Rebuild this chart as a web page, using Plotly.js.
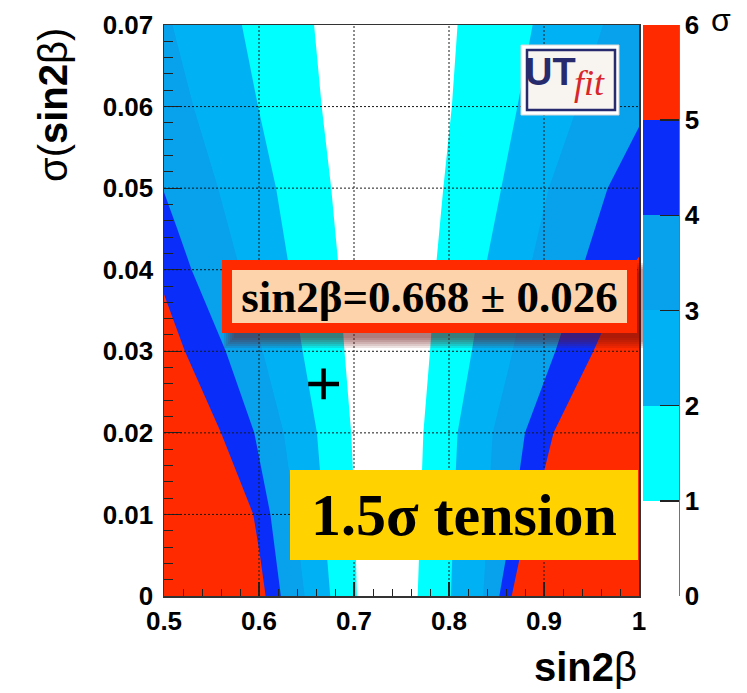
<!DOCTYPE html>
<html>
<head>
<meta charset="utf-8">
<script src="https://cdn.plot.ly/plotly-3.0.1.min.js"></script>
<style>
  html, body { margin: 0; padding: 0; background: #ffffff; }
  #chart { width: 747px; height: 693px; }
</style>
</head>
<body>
<div id="chart"></div>
<script>
// Compatibility (in sigma) of a sin2β measurement with the fit prediction,
// as a function of the measured value and its error.

const xRange = [0.5, 1.0];
const yRange = [0, 0.07];
const xTicks = [0.5, 0.6, 0.7, 0.8, 0.9, 1.0];
const yTicks = [0, 0.01, 0.02, 0.03, 0.04, 0.05, 0.06, 0.07];

// sigma levels and the colour of each band between consecutive levels
const sigmaLevels = [0, 1, 2, 3, 4, 5, 6];
const bandColors = ['#ffffff', '#00ffff', '#00b2f4', '#08a1ec', '#0a2dfa', '#ff2a00'];

// contour lines on the low side of the prediction (sin2β values, per σ(sin2β) row)
const rowsY  = [0, 0.01, 0.02, 0.03, 0.04, 0.05, 0.06, 0.07];
const left1X = [0.703, 0.701, 0.697, 0.690, 0.684, 0.676, 0.666, 0.658];
const left2X = [0.675, 0.668, 0.661, 0.646, 0.632, 0.618, 0.599, 0.582];
const left3X = [0.648, 0.638, 0.626, 0.604, 0.580, 0.557, 0.531, 0.509];
const left4Y = [0, 0.01, 0.02, 0.03, 0.04, 0.045, 0.0495];
const left4X = [0.623, 0.612, 0.595, 0.565, 0.529, 0.514, 0.500];
const left5Y = [0, 0.005, 0.01, 0.02, 0.03, 0.037];
const left5X = [0.607, 0.601, 0.594, 0.560, 0.522, 0.500];

// contour lines on the high side of the prediction
const right1X = [0.767, 0.770, 0.773, 0.780, 0.786, 0.794, 0.803, 0.809];
const right2X = [0.802, 0.805, 0.809, 0.824, 0.838, 0.855, 0.872, 0.888];
const right3X = [0.836, 0.841, 0.846, 0.867, 0.885, 0.905, 0.935, 0.962];
const right4Y = [0, 0.01, 0.02, 0.03, 0.04, 0.05, 0.0575];
const right4X = [0.853, 0.868, 0.880, 0.912, 0.940, 0.967, 1.000];
const right5Y = [0, 0.005, 0.01, 0.02, 0.03, 0.04, 0.0416];
const right5X = [0.866, 0.875, 0.889, 0.910, 0.952, 0.990, 1.000];

// current measurement: value and error
const measX = [0.668];
const measErr = [0.026];

// ---------- band polygons ----------
function sideBand(xs, ys, color, side) {
  const edge = side === 'left' ? xRange[0] - 0.05 : xRange[1] + 0.05;
  return {
    type: 'scatter', mode: 'none',
    x: xs.concat([edge, edge]),
    y: ys.concat([ys[ys.length - 1], ys[0]]),
    fill: 'toself', fillcolor: color,
    hoverinfo: 'skip', showlegend: false
  };
}

const traces = [
  sideBand(left1X, rowsY, bandColors[1], 'left'),
  sideBand(left2X, rowsY, bandColors[2], 'left'),
  sideBand(left3X, rowsY, bandColors[3], 'left'),
  sideBand(left4X, left4Y, bandColors[4], 'left'),
  sideBand(left5X, left5Y, bandColors[5], 'left'),
  sideBand(right1X, rowsY, bandColors[1], 'right'),
  sideBand(right2X, rowsY, bandColors[2], 'right'),
  sideBand(right3X, rowsY, bandColors[3], 'right'),
  sideBand(right4X, right4Y, bandColors[4], 'right'),
  sideBand(right5X, right5Y, bandColors[5], 'right')
];

// stepped colour scale for the σ colour bar
const nBands = sigmaLevels.length - 1;
const colorscale = [];
bandColors.forEach((c, i) => {
  colorscale.push([i / nBands, c]);
  colorscale.push([(i + 1) / nBands, c]);
});

// measurement marker
traces.push({
  type: 'scatter', mode: 'markers',
  x: measX, y: measErr,
  marker: { symbol: 'cross-thin', size: 22, color: '#000000', line: { color: '#000000', width: 4.5 } },
  hoverinfo: 'skip', showlegend: false
});

// colour bar carrier (no visible point)
traces.push({
  type: 'scatter', mode: 'markers',
  x: [null], y: [null],
  marker: {
    color: [sigmaLevels[0]], cmin: sigmaLevels[0], cmax: sigmaLevels[sigmaLevels.length - 1],
    colorscale: colorscale, showscale: true,
    colorbar: {
      x: 1.0084, xanchor: 'left', xpad: 0, ypad: 0,
      y: 0.5, yanchor: 'middle', len: 1, lenmode: 'fraction',
      thickness: 36, outlinewidth: 0,
      tickmode: 'array', tickvals: sigmaLevels, ticktext: sigmaLevels.map(String),
      ticks: 'inside', ticklen: 19, tickwidth: 1.5, tickcolor: '#222222',
      tickfont: { family: 'Liberation Sans, Arial, sans-serif', size: 26, color: '#000000', weight: 'bold' }
    }
  },
  hoverinfo: 'skip', showlegend: false
});

// ---------- layout helpers ----------
const L = 164, T = 25, W = 475, H = 571;
const px = v => (v - L) / W;      // pixel column -> paper x
const py = v => (T + H - v) / H;  // pixel row -> paper y

const shapes = [];
// dotted grid over the bands
xTicks.slice(1, -1).forEach(v => shapes.push({
  type: 'line', layer: 'above', xref: 'x', yref: 'paper', x0: v, x1: v, y0: 0, y1: 1,
  line: { color: '#1a1a1a', width: 1, dash: '2px,2px' }
}));
yTicks.slice(1, -1).forEach(v => shapes.push({
  type: 'line', layer: 'above', xref: 'paper', yref: 'y', x0: 0, x1: 1, y0: v, y1: v,
  line: { color: '#1a1a1a', width: 1, dash: '2px,2px' }
}));
// colour bar axis line
shapes.push({ type: 'line', layer: 'above', xref: 'paper', yref: 'paper',
  x0: px(679), x1: px(679), y0: 0, y1: 1, line: { color: '#444444', width: 1.5 } });

// soft shadow under the result label (stacked translucent layers)
[-5, -3, -1, 1, 3, 5].forEach(g => shapes.push({
  type: 'rect', layer: 'above', xref: 'paper', yref: 'paper',
  x0: px(229 + g), x1: px(644 - g), y0: py(343 - g), y1: py(268 + g),
  fillcolor: 'rgba(105,15,15,0.12)', line: { width: 0 }
}));

// logo box
shapes.push({ type: 'rect', layer: 'above', xref: 'paper', yref: 'paper',
  x0: px(521), x1: px(619), y0: py(115), y1: py(45),
  fillcolor: '#ffffff', line: { color: '#d6d6d6', width: 1 } });
shapes.push({ type: 'rect', layer: 'above', xref: 'paper', yref: 'paper',
  x0: px(527), x1: px(615), y0: py(110), y1: py(50),
  fillcolor: '#f8f5f1', line: { color: '#272b6d', width: 2.5 } });

const serif = 'Liberation Serif, Times New Roman, serif';
const sans = 'Liberation Sans, Arial, Helvetica, sans-serif';

const annotations = [
  // result label
  {
    xref: 'paper', yref: 'paper', x: px(429.5), y: py(296.5), xanchor: 'center', yanchor: 'middle',
    text: 'sin2β=' + measX[0].toFixed(3) + ' ± ' + measErr[0].toFixed(3),
    showarrow: false, width: 395, height: 53, borderpad: 0,
    bgcolor: '#fdd3ac', bordercolor: '#ff2a00', borderwidth: 10,
    font: { family: serif, size: 45, color: '#000000', weight: 'bold' }
  },
  // tension label
  {
    xref: 'paper', yref: 'paper', x: px(464), y: py(515), xanchor: 'center', yanchor: 'middle',
    text: '1.5σ tension', showarrow: false, width: 348, height: 90, borderpad: 0,
    bgcolor: '#ffd200', borderwidth: 0,
    font: { family: serif, size: 60, color: '#000000', weight: 'bold' }
  },
  // logo text
  {
    xref: 'paper', yref: 'paper', x: px(550), y: py(72), xanchor: 'center', yanchor: 'middle',
    text: 'UT', showarrow: false,
    font: { family: sans, size: 38, color: '#272b6d', weight: 'bold' }
  },
  {
    xref: 'paper', yref: 'paper', x: px(589), y: py(83), xanchor: 'center', yanchor: 'middle',
    text: '<i>fit</i>', showarrow: false,
    font: { family: serif, size: 36, color: '#d8262a' }
  },
  // axis titles
  {
    xref: 'paper', yref: 'paper', x: 1, y: py(667), xanchor: 'right', yanchor: 'middle',
    text: '<b>sin2</b>β', showarrow: false,
    font: { family: sans, size: 40, color: '#000000' }
  },
  {
    xref: 'paper', yref: 'paper', x: px(53), y: py(105), xanchor: 'center', yanchor: 'middle',
    text: 'σ(<b>sin2</b>β)', textangle: -90, showarrow: false,
    font: { family: sans, size: 40, color: '#000000' }
  },
  // colour bar title
  {
    xref: 'paper', yref: 'paper', x: px(721), y: py(20), xanchor: 'center', yanchor: 'middle',
    text: 'σ', showarrow: false,
    font: { family: sans, size: 32, color: '#000000' }
  }
];

const tickFont = { family: sans, size: 26, color: '#000000', weight: 'bold' };

const layout = {
  width: 747, height: 693,
  margin: { l: L, r: 747 - L - W, t: T, b: 693 - T - H },
  paper_bgcolor: '#ffffff', plot_bgcolor: '#ffffff',
  showlegend: false,
  xaxis: {
    range: xRange, tickmode: 'array', tickvals: xTicks, ticktext: xTicks.map(v => String(v)),
    showgrid: false, zeroline: false,
    ticks: 'inside', ticklen: 14, tickwidth: 1.2, tickcolor: '#222222',
    minor: { ticks: 'inside', ticklen: 7, dtick: 0.02, tick0: 0.5, tickwidth: 1, tickcolor: '#222222', showgrid: false },
    showline: true, linecolor: '#333333', linewidth: 1.5, mirror: true,
    tickfont: tickFont, ticklabelstandoff: 1
  },
  yaxis: {
    range: yRange, tickmode: 'array', tickvals: yTicks, ticktext: yTicks.map(v => String(v)),
    showgrid: false, zeroline: false,
    ticks: 'inside', ticklen: 18, tickwidth: 1.2, tickcolor: '#222222',
    minor: { ticks: 'inside', ticklen: 9, dtick: 0.002, tick0: 0, tickwidth: 1, tickcolor: '#222222', showgrid: false },
    showline: true, linecolor: '#333333', linewidth: 1.5, mirror: true,
    tickfont: tickFont, ticklabelstandoff: 4
  },
  shapes: shapes,
  annotations: annotations
};

Plotly.newPlot('chart', traces, layout, { displayModeBar: false, staticPlot: true });
</script>
</body>
</html>
